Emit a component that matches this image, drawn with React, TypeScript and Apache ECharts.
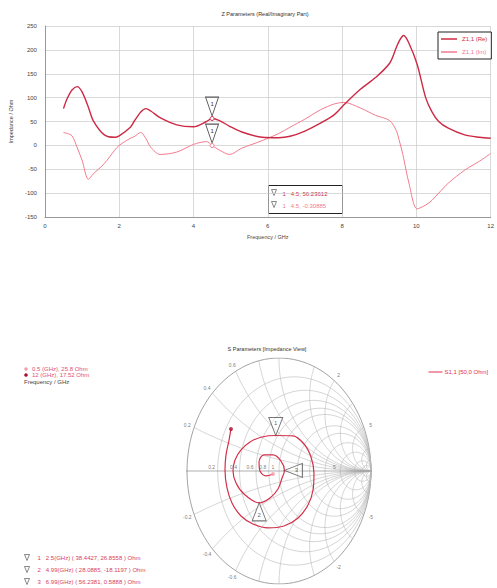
import React, { useEffect, useRef } from "react";
import * as echarts from "echarts";

// ---- Z parameter sweep (real / imaginary part) ----
const freqGHz = [
  0.5, 0.6, 0.73, 0.87, 1.0, 1.17, 1.3, 1.6, 1.88, 2.0, 2.3, 2.4, 2.58, 2.72, 2.85, 3.1,
  3.55, 4.0, 4.35, 4.5, 4.7, 4.97, 5.3, 5.85, 6.3, 6.6, 7.0, 7.43, 7.8, 8.05, 8.5, 8.9,
  9.28, 9.46, 9.54, 9.63, 9.66, 9.8, 10.02, 10.25, 10.42, 10.6, 10.86, 11.3, 11.7, 12.0,
];
const z11Re = [
  77, 98, 116, 123, 112, 80, 52, 22, 17, 20, 38, 50, 70, 77, 72, 58,
  43, 39, 50, 56.24, 52, 40, 28, 17, 16, 19, 30, 47, 65, 85, 118, 142,
  172, 205, 219, 229, 230, 214, 170, 100, 70, 50, 36, 22, 17, 15,
];
const z11Im = [
  27, 25, 20, -5, -31, -71, -60, -38, -10, 0, 15, 18, 27, 14, -4, -19,
  -14, 2, 8, -0.31, -10, -19, -6, 10, 25, 38, 55, 75, 87, 90, 78, 63,
  52, 31, 10, -17, -28, -79, -133, -125, -115, -100, -79, -52, -33, -17,
];
const markerFreq = 4.5;
const markerRe = 56.23612;
const markerIm = -0.30885;

const freqTicks = { min: 0, max: 12, step: 2 };
const ohmTicks = { min: -150, max: 250, step: 50 };

// ---- S11 locus on the Smith chart (reflection coefficient) ----
const smithRe = [
  -0.522, -0.543, -0.576, -0.587, -0.565, -0.511, -0.413, -0.283, -0.12, 0.054, 0.207, 0.315,
  0.37, 0.38, 0.348, 0.272, 0.152, -0.035, -0.185, -0.315, -0.413, -0.478, -0.5, -0.467,
  -0.38, -0.215, -0.098, -0.011, 0.033, 0.059, 0.022, -0.065, -0.163, -0.217, -0.207, -0.141,
  -0.065,
];
const smithIm = [
  0.372, 0.274, 0.142, 0.009, -0.15, -0.283, -0.398, -0.469, -0.504, -0.487, -0.416, -0.301,
  -0.168, -0.018, 0.124, 0.239, 0.31, 0.314, 0.301, 0.257, 0.186, 0.097, 0.0, -0.106,
  -0.204, -0.282, -0.239, -0.159, -0.062, 0.005, 0.088, 0.142, 0.142, 0.08, 0.0, -0.044,
  -0.027,
];
const z0 = 50;
const smithMarkerFreq = ["2.5", "4.99", "6.99"];
const smithMarkerR = [38.4427, 28.0885, 56.2381];
const smithMarkerX = [26.8558, -18.1197, 0.5888];

// Smith grid: normalised resistance circles and reactance arcs
const rCircles = [0.2, 0.4, 0.6, 0.8, 1, 1.5, 2, 3, 5, 10, 20];
const xArcs = [0.2, 0.4, 0.6, 0.8, 1, 1.5, 2, 3, 5, 10, 20];
const rimLabels = [0.2, 0.4, 0.6, 0.8, 1, 2, 5, 10, 20];
const axisLabels = [0.2, 0.4, 0.6, 0.8, 1, 5];

const FONT = "Liberation Sans";
const RE_COLOR = "#cc2a44";
const IM_COLOR = "#f27b8e";
const GRID_GRAY = "#b8b8b8";

const deg = Math.PI / 180;

function gammaOf(r: number, x: number): [number, number] {
  const d = (r + 1) * (r + 1) + x * x;
  return [(r * r - 1 + x * x) / d, (2 * x) / d];
}

function rCirclePts(r: number) {
  const c = r / (1 + r);
  const R = 1 / (1 + r);
  const pts: number[][] = [];
  for (let a = 0; a <= 360; a += 3) pts.push([c + R * Math.cos(a * deg), R * Math.sin(a * deg)]);
  return pts;
}

function xArcPts(x: number) {
  const pts: number[][] = [];
  for (let t = 0; t < 89.5; t += 1) pts.push(gammaOf(Math.tan(t * deg), x));
  pts.push([1, 0]);
  return pts;
}

const downTri = "path://M0,0 L14,0 L7,18 Z";
const upTri = "path://M7,0 L14,18 L0,18 Z";
const leftTri = "path://M0,7 L18,0 L18,14 Z";

export default function App() {
  const ref = useRef<HTMLDivElement>(null);

  useEffect(() => {
    if (!ref.current) return;
    const chart = echarts.init(ref.current, undefined, { renderer: "svg" });

    const gridLine = (data: number[][], color = GRID_GRAY, width = 0.6) => ({
      type: "line",
      xAxisIndex: 1,
      yAxisIndex: 1,
      data,
      symbol: "none",
      silent: true,
      lineStyle: { color, width },
      z: 1,
    });

    const smithGridSeries: any[] = [];
    smithGridSeries.push(gridLine(rCirclePts(0), "#8c8c8c", 0.8));
    rCircles.forEach((r) => smithGridSeries.push(gridLine(rCirclePts(r))));
    xArcs.forEach((x) => {
      smithGridSeries.push(gridLine(xArcPts(x)));
      smithGridSeries.push(gridLine(xArcPts(-x)));
    });
    smithGridSeries.push(gridLine([[-1.08, 0], [1.02, 0]], "#8c8c8c", 0.7));

    // rim (reactance) and real-axis (resistance) labels
    const labelPts: any[] = [];
    labelPts.push({ value: [-1.08, 0], label: { formatter: "0.0", position: "left", offset: [2, 0] } });
    rimLabels.forEach((x) => {
      [x, -x].forEach((v) => {
        const g = gammaOf(0, v);
        labelPts.push({
          value: [g[0] * 1.08, g[1] * 1.06],
          label: { formatter: String(v) },
        });
      });
    });
    axisLabels.forEach((r) => {
      const g = gammaOf(r, 0);
      labelPts.push({ value: [g[0], 0], label: { formatter: String(r), offset: [-6, -4] } });
    });

    const smithMarkers = smithMarkerR.map((R, i) => {
      const g = gammaOf(R / z0, smithMarkerX[i] / z0);
      const sym = i === 0 ? downTri : i === 1 ? upTri : leftTri;
      const size = i === 2 ? [18, 14] : [14, 18];
      const off = i === 0 ? [0, -9] : i === 1 ? [0, 9] : [9, 0];
      const lblOff = i === 0 ? [0, -3] : i === 1 ? [0, 3] : [3, 0];
      return {
        value: g,
        symbol: sym,
        symbolSize: size,
        symbolOffset: off,
        label: { formatter: String(i + 1), offset: lblOff },
      };
    });

    const legendRows = smithMarkerFreq.map((f, i) => ({
      type: "group",
      left: 22,
      top: 552 + i * 12,
      children: [
        {
          type: "polygon",
          shape: { points: [[0, 0], [5, 0], [2.5, 6]] },
          style: { fill: "none", stroke: "#555", lineWidth: 0.7 },
        },
        {
          type: "text",
          x: 13,
          y: 3,
          style: {
            text: `${i + 1}   ${f}(GHz) ( ${smithMarkerR[i].toFixed(4)}, ${smithMarkerX[i].toFixed(4)} ) Ohm`,
            fill: "#d8405a",
            fontSize: 6,
            fontFamily: FONT,
            verticalAlign: "middle",
          },
        },
      ],
    }));

    const triMark = (value: number) => ({
      coord: [markerFreq, value],
      symbol: downTri,
      symbolSize: [13, 19],
      symbolOffset: [0, -12],
      itemStyle: { color: "rgba(255,255,255,0.6)", borderColor: "#555", borderWidth: 1 },
      label: { show: true, formatter: "1", color: "#333", fontSize: 6, offset: [0, -3] },
    });
    const dotMark = (value: number, color: string) => ({
      coord: [markerFreq, value],
      symbol: "circle",
      symbolSize: 4,
      itemStyle: { color: "#fff", borderColor: color, borderWidth: 1 },
      label: { show: false },
    });

    const option: any = {
      animation: false,
      backgroundColor: "#ffffff",
      textStyle: { fontFamily: FONT },
      legend: {
        data: [
          { name: "Z1,1 (Re)", textStyle: { color: RE_COLOR } },
          { name: "Z1,1 (Im)", textStyle: { color: IM_COLOR } },
        ],
        icon: "rect",
        orient: "vertical",
        left: 438,
        top: 32,
        borderColor: "#222",
        borderWidth: 1,
        padding: [4, 4, 4, 3],
        itemWidth: 16,
        itemHeight: 1.5,
        itemGap: 7,
        textStyle: { fontSize: 6, fontFamily: FONT },
        backgroundColor: "#fff",
      },
      grid: [
        { left: 39, right: 4, top: 26, bottom: 371 },
        { left: 187, top: 358, width: 184, height: 226 },
      ],
      xAxis: [
        {
          type: "value",
          gridIndex: 0,
          min: freqTicks.min,
          max: freqTicks.max,
          interval: freqTicks.step,
          name: "Frequency / GHz",
          nameLocation: "middle",
          nameGap: 17,
          nameTextStyle: { fontSize: 5.5, color: "#444" },
          axisLine: { onZero: false, lineStyle: { color: "#888", width: 0.8 } },
          axisTick: { show: false },
          axisLabel: { fontSize: 6, color: "#444", margin: 6 },
          splitLine: { lineStyle: { color: "#c8c8c8", width: 0.7 } },
        },
        { type: "value", gridIndex: 1, min: -1, max: 1, show: false },
      ],
      yAxis: [
        {
          type: "value",
          gridIndex: 0,
          min: ohmTicks.min,
          max: ohmTicks.max,
          interval: ohmTicks.step,
          name: "Impedance / Ohm",
          nameLocation: "middle",
          nameGap: 26,
          nameTextStyle: { fontSize: 5.5, color: "#444" },
          axisLine: { show: true, lineStyle: { color: "#888", width: 0.8 } },
          axisTick: { show: false },
          axisLabel: { fontSize: 6, color: "#444", margin: 8 },
          splitLine: { lineStyle: { color: "#c8c8c8", width: 0.7 } },
        },
        { type: "value", gridIndex: 1, min: -1, max: 1, show: false },
      ],
      series: [
        {
          name: "Z1,1 (Re)",
          type: "line",
          data: freqGHz.map((f, i) => [f, z11Re[i]]),
          symbol: "none",
          smooth: 0.3,
          lineStyle: { color: RE_COLOR, width: 1.4 },
          itemStyle: { color: RE_COLOR },
          z: 4,
          markPoint: { silent: true, data: [triMark(markerRe), dotMark(markerRe, RE_COLOR)] },
        },
        {
          name: "Z1,1 (Im)",
          type: "line",
          data: freqGHz.map((f, i) => [f, z11Im[i]]),
          symbol: "none",
          smooth: 0.3,
          lineStyle: { color: IM_COLOR, width: 1 },
          itemStyle: { color: IM_COLOR },
          z: 3,
          markPoint: { silent: true, data: [triMark(markerIm), dotMark(markerIm, IM_COLOR)] },
        },
        ...smithGridSeries,
        {
          type: "scatter",
          xAxisIndex: 1,
          yAxisIndex: 1,
          data: labelPts,
          symbolSize: 0,
          silent: true,
          label: { show: true, position: "inside", fontSize: 5, color: "#555" },
          z: 2,
        },
        {
          name: "S1,1",
          type: "line",
          xAxisIndex: 1,
          yAxisIndex: 1,
          data: smithRe.map((v, i) => [v, smithIm[i]]),
          symbol: "none",
          smooth: 0.35,
          lineStyle: { color: "#d4304a", width: 1.2 },
          z: 5,
        },
        {
          type: "scatter",
          xAxisIndex: 1,
          yAxisIndex: 1,
          data: [
            { value: [smithRe[0], smithIm[0]], itemStyle: { color: "#b01030" } },
            {
              value: [smithRe[smithRe.length - 1], smithIm[smithIm.length - 1]],
              itemStyle: { color: "#f2a0b0" },
            },
          ],
          symbolSize: 4,
          silent: true,
          z: 6,
        },
        {
          type: "scatter",
          xAxisIndex: 1,
          yAxisIndex: 1,
          data: smithMarkers,
          silent: true,
          itemStyle: { color: "rgba(255,255,255,0.55)", borderColor: "#555", borderWidth: 1 },
          label: { show: true, position: "inside", fontSize: 6, color: "#333" },
          z: 7,
        },
      ],
      graphic: [
        {
          type: "text",
          x: 265,
          y: 14,
          style: {
            text: "Z Parameters (Real/Imaginary Part)",
            fontSize: 5.5,
            fill: "#333",
            fontFamily: FONT,
            align: "center",
            verticalAlign: "middle",
          },
        },
        {
          type: "group",
          left: 268,
          top: 185,
          children: [
            {
              type: "rect",
              shape: { x: 0, y: 0, width: 74, height: 28 },
              style: { fill: "#fff", stroke: "#222", lineWidth: 1 },
            },
            {
              type: "polygon",
              shape: { points: [[3, 4], [8, 4], [5.5, 10]] },
              style: { fill: "none", stroke: "#555", lineWidth: 0.7 },
            },
            {
              type: "polygon",
              shape: { points: [[3, 16], [8, 16], [5.5, 22]] },
              style: { fill: "none", stroke: "#555", lineWidth: 0.7 },
            },
            {
              type: "text",
              x: 14,
              y: 8,
              style: {
                text: `1   ${markerFreq}, ${markerRe}`,
                fill: RE_COLOR,
                fontSize: 6,
                fontFamily: FONT,
                verticalAlign: "middle",
              },
            },
            {
              type: "text",
              x: 14,
              y: 20,
              style: {
                text: `1   ${markerFreq}, ${markerIm}`,
                fill: IM_COLOR,
                fontSize: 6,
                fontFamily: FONT,
                verticalAlign: "middle",
              },
            },
          ],
        },
        {
          type: "text",
          x: 267,
          y: 349,
          style: {
            text: "S Parameters [Impedance View]",
            fontSize: 5.5,
            fill: "#333",
            fontFamily: FONT,
            align: "center",
            verticalAlign: "middle",
          },
        },
        {
          type: "group",
          left: 24,
          top: 366,
          children: [
            { type: "circle", shape: { cx: 3, cy: 3, r: 1.8 }, style: { fill: "#f2a0b0" } },
            {
              type: "text",
              x: 9,
              y: 3,
              style: { text: "0.5 (GHz), 25.8 Ohm", fill: "#e05070", fontSize: 6, fontFamily: FONT, verticalAlign: "middle" },
            },
            { type: "circle", shape: { cx: 3, cy: 9, r: 1.8 }, style: { fill: "#b01030" } },
            {
              type: "text",
              x: 9,
              y: 9,
              style: { text: "12 (GHz), 17.52 Ohm", fill: "#e05070", fontSize: 6, fontFamily: FONT, verticalAlign: "middle" },
            },
            {
              type: "text",
              x: 1,
              y: 16,
              style: { text: "Frequency / GHz", fill: "#444", fontSize: 6, fontFamily: FONT, verticalAlign: "middle" },
            },
          ],
        },
        {
          type: "group",
          left: 426,
          top: 369,
          children: [
            { type: "line", shape: { x1: 0, y1: 3, x2: 14, y2: 3 }, style: { stroke: "#e03050", lineWidth: 1 } },
            {
              type: "text",
              x: 16,
              y: 3,
              style: { text: "S1,1 [50,0 Ohm]", fill: "#e03050", fontSize: 6, fontFamily: FONT, verticalAlign: "middle" },
            },
          ],
        },
        ...legendRows,
      ],
    };

    chart.setOption(option);
    return () => chart.dispose();
  }, []);

  return (
    <div
      ref={ref}
      style={{ position: "fixed", left: 0, top: 0, width: 497, height: 588, background: "#fff" }}
    />
  );
}
